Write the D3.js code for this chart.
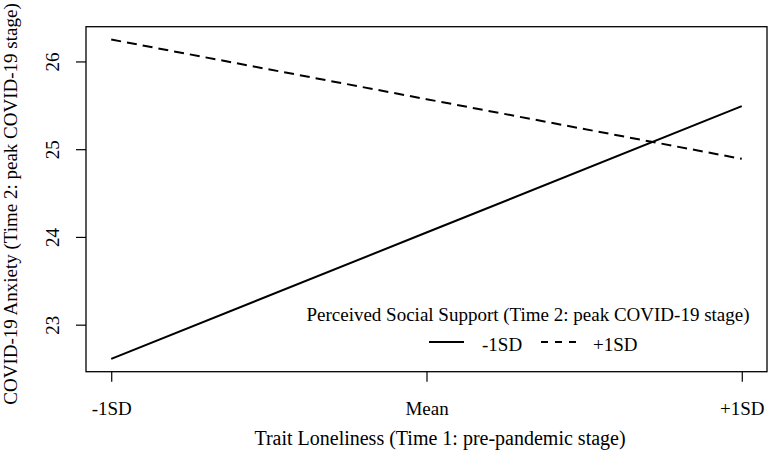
<!DOCTYPE html>
<html lang="en">
<head>
<meta charset="utf-8">
<title>Simple slopes</title>
<style>
  body { margin: 0; background: #fff; }
  text { font-family: "Liberation Serif", "Times New Roman", serif; fill: #000; }
  .box { fill: none; stroke: #000; stroke-width: 1.3px; }
  .axis path, .axis line { stroke: #000; stroke-width: 1.2px; }
  path.line { fill: none; stroke: #000; stroke-width: 2px; }
  path.plus { stroke-dasharray: 10, 6; }
  .legend path.plus { stroke-dasharray: 7, 7; }
</style>
</head>
<body>
<script src="https://cdn.jsdelivr.net/npm/d3@7"></script>
<script>
// values
const levels = ["-1SD", "Mean", "+1SD"];
const lowSupport = [22.61, 24.05, 25.49];   // -1SD perceived support
const highSupport = [26.25, 25.57, 24.89];  // +1SD perceived support
const yTicks = [23, 24, 25, 26];

const W = 769, H = 463;
const plotL = 86, plotR = 767, plotT = 26.7, plotB = 371.7;

const svg = d3.select("body").append("svg")
    .attr("width", W)
    .attr("height", H);

const x = d3.scaleLinear()
    .domain([0.92, 3.08])
    .range([plotL, plotR]);
const y = d3.scaleLinear()
    .domain([22.464, 26.396])
    .range([plotB, plotT]);

// lines
const line = d3.line()
    .x((d, i) => x(i + 1))
    .y(d => y(d));

svg.append("path")
    .attr("class", "line minus")
    .attr("d", line(lowSupport));
svg.append("path")
    .attr("class", "line plus")
    .attr("d", line(highSupport));

// plot frame
svg.append("rect")
    .attr("class", "box")
    .attr("x", plotL)
    .attr("y", plotT)
    .attr("width", plotR - plotL)
    .attr("height", plotB - plotT);

// x axis
const xAxis = d3.axisBottom(x)
    .tickValues([1, 2, 3])
    .tickFormat(d => levels[d - 1])
    .tickSize(10)
    .tickPadding(20);
const gx = svg.append("g")
    .attr("class", "axis x")
    .attr("transform", `translate(0, ${plotB})`)
    .call(xAxis);
gx.select(".domain").remove();
gx.selectAll(".tick text")
    .style("font-family", "Liberation Serif")
    .style("font-size", "19px");

// y axis
const yAxis = d3.axisLeft(y)
    .tickValues(yTicks)
    .tickFormat(d3.format("d"))
    .tickSize(10)
    .tickPadding(0);
const gy = svg.append("g")
    .attr("class", "axis y")
    .attr("transform", `translate(${plotL}, 0)`)
    .call(yAxis);
gy.select(".domain").remove();
gy.selectAll(".tick text")
    .attr("x", 0)
    .attr("y", 0)
    .attr("dy", null)
    .attr("text-anchor", "middle")
    .attr("transform", "translate(-27, 0) rotate(-90)")
    .style("font-family", "Liberation Serif")
    .style("font-size", "19px");

// axis titles
svg.append("text")
    .attr("x", 440)
    .attr("y", 445)
    .attr("text-anchor", "middle")
    .style("font-size", "20px")
    .text("Trait Loneliness (Time 1: pre-pandemic stage)");

svg.append("text")
    .attr("transform", `translate(17, 204) rotate(-90)`)
    .attr("text-anchor", "middle")
    .style("font-size", "19px")
    .text("COVID-19 Anxiety (Time 2: peak COVID-19 stage)");

// legend
const legend = svg.append("g").attr("class", "legend");
legend.append("text")
    .attr("x", 528)
    .attr("y", 321)
    .attr("text-anchor", "middle")
    .style("font-size", "19px")
    .text("Perceived Social Support (Time 2: peak COVID-19 stage)");

const items = [
    { label: "-1SD", cls: "line minus", x0: 429, tx: 482 },
    { label: "+1SD", cls: "line plus", x0: 541, tx: 593 }
];
items.forEach(it => {
    legend.append("path")
        .attr("class", it.cls)
        .attr("d", d3.line()([[it.x0, 342], [it.x0 + 35, 342]]));
    legend.append("text")
        .attr("x", it.tx)
        .attr("y", 351)
        .style("font-size", "19px")
        .text(it.label);
});
</script>
</body>
</html>
